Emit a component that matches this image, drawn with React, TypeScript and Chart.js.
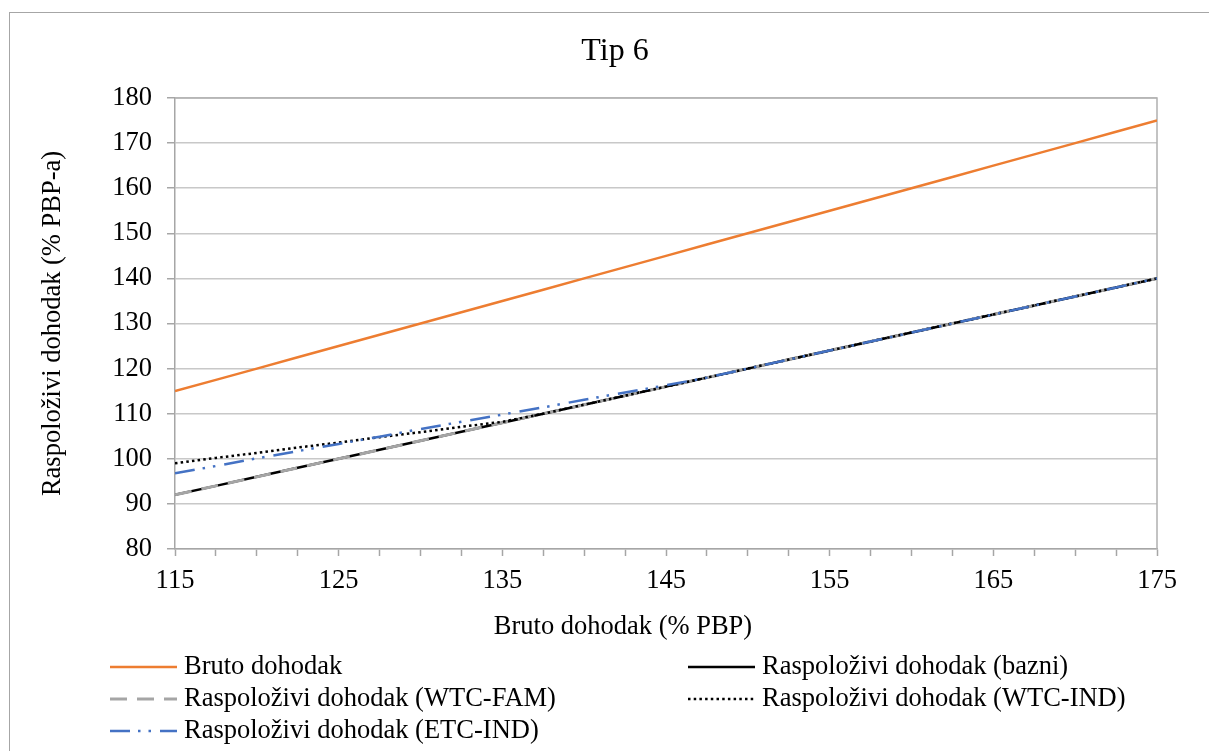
import React, { useEffect, useRef } from 'react';
import { Chart, registerables } from 'chart.js';

Chart.register(...registerables);

// ---- data ----
const xValues = [115, 117.5, 120, 122.5, 125, 127.5, 130, 132.5, 135, 137.5, 140, 142.5, 145, 147.5, 150, 152.5, 155, 157.5, 160, 162.5, 165, 167.5, 170, 172.5, 175];
const brutoValues = [115, 117.5, 120, 122.5, 125, 127.5, 130, 132.5, 135, 137.5, 140, 142.5, 145, 147.5, 150, 152.5, 155, 157.5, 160, 162.5, 165, 167.5, 170, 172.5, 175];
const bazniValues = [92, 94, 96, 98, 100, 102, 104, 106, 108, 110, 112, 114, 116, 118, 120, 122, 124, 126, 128, 130, 132, 134, 136, 138, 140];
const wtcFamValues = [92, 94, 96, 98, 100, 102, 104, 106, 108, 110, 112, 114, 116, 118, 120, 122, 124, 126, 128, 130, 132, 134, 136, 138, 140];
const wtcIndValues = [99.0, 100.2, 101.3, 102.5, 103.6, 104.8, 105.9, 107.1, 108.2, 110, 112, 114, 116, 118, 120, 122, 124, 126, 128, 130, 132, 134, 136, 138, 140];
const etcIndValues = [96.8, 98.4, 100.1, 101.7, 103.3, 104.9, 106.6, 108.2, 109.8, 111.4, 113.1, 114.7, 116.3, 118, 120, 122, 124, 126, 128, 130, 132, 134, 136, 138, 140];

const seriesLabels = [
  'Bruto dohodak',
  'Raspoloživi dohodak (bazni)',
  'Raspoloživi dohodak (WTC-FAM)',
  'Raspoloživi dohodak (WTC-IND)',
  'Raspoloživi dohodak (ETC-IND)',
];
const chartTitle = 'Tip 6';
const xAxisTitle = 'Bruto dohodak (% PBP)';
const yAxisTitle = 'Raspoloživi dohodak (% PBP-a)';
const xLabelTicks = [115, 125, 135, 145, 155, 165, 175];

const FONT = "'Liberation Serif', 'Times New Roman', serif";
const FS = 26.5;

const toPoints = (ys: number[]) => ys.map((y, i) => ({ x: xValues[i], y }));

const textPlugin = {
  id: 'textAndLegend',
  afterDraw(chart: any) {
    const ctx = chart.ctx;
    // chart title and x-axis title (centred on the whole chart object)
    ctx.save();
    ctx.fillStyle = '#000';
    ctx.textAlign = 'center';
    ctx.textBaseline = 'middle';
    ctx.font = `32px ${FONT}`;
    ctx.fillText(chartTitle, 615, 52);
    ctx.font = `${FS}px ${FONT}`;
    ctx.fillText(xAxisTitle, 623, 627);
    ctx.restore();

    // legend in two columns
    const cols = [110, 688];
    const rowY0 = 667;
    const rowGap = 32;
    chart.data.datasets.forEach((ds: any, i: number) => {
      const x = cols[i % 2];
      const y = rowY0 + Math.floor(i / 2) * rowGap;
      ctx.save();
      ctx.strokeStyle = ds.borderColor;
      ctx.lineWidth = ds.borderWidth;
      ctx.lineCap = 'butt';
      ctx.setLineDash(ds.borderDash || []);
      ctx.beginPath();
      ctx.moveTo(x, y);
      ctx.lineTo(x + 67, y);
      ctx.stroke();
      ctx.setLineDash([]);
      ctx.fillStyle = '#000';
      ctx.font = `${FS}px ${FONT}`;
      ctx.textBaseline = 'middle';
      ctx.textAlign = 'left';
      ctx.fillText(ds.label, x + 74, y);
      ctx.restore();
    });
  },
};

const plotBorderPlugin = {
  id: 'plotBorder',
  beforeDatasetsDraw(chart: any) {
    const { ctx, chartArea } = chart;
    ctx.save();
    ctx.strokeStyle = '#b0b0b0';
    ctx.lineWidth = 1.5;
    ctx.beginPath();
    ctx.moveTo(chartArea.left, chartArea.top);
    ctx.lineTo(chartArea.right, chartArea.top);
    ctx.lineTo(chartArea.right, chartArea.bottom);
    ctx.stroke();
    ctx.restore();
  },
};

export default function App() {
  const canvasRef = useRef<HTMLCanvasElement | null>(null);

  useEffect(() => {
    if (!canvasRef.current) return;
    const chart = new Chart(canvasRef.current, {
      type: 'line',
      data: {
        datasets: [
          { label: seriesLabels[0], data: toPoints(brutoValues), borderColor: '#ED7D31', borderWidth: 2.5, order: 5 },
          { label: seriesLabels[1], data: toPoints(bazniValues), borderColor: '#000000', borderWidth: 2.5, order: 4 },
          { label: seriesLabels[2], data: toPoints(wtcFamValues), borderColor: '#A5A5A5', borderWidth: 3, borderDash: [17, 10], order: 3 },
          { label: seriesLabels[3], data: toPoints(wtcIndValues), borderColor: '#000000', borderWidth: 2.5, borderDash: [2.5, 3.2], order: 2 },
          { label: seriesLabels[4], data: toPoints(etcIndValues), borderColor: '#4472C4', borderWidth: 2.5, borderDash: [20, 8, 2.5, 8, 2.5, 9], order: 1 },
        ] as any,
      },
      options: {
        responsive: false,
        animation: false,
        devicePixelRatio: 1,
        elements: { point: { radius: 0, hoverRadius: 0 }, line: { tension: 0, fill: false } },
        layout: { padding: { left: 0, right: 52, top: 98, bottom: 102 } },
        plugins: {
          legend: { display: false },
          tooltip: { enabled: false },
          title: { display: false },
        },
        scales: {
          x: {
            type: 'linear',
            min: 115,
            max: 175,
            ticks: {
              stepSize: 2.5,
              autoSkip: false,
              maxRotation: 0,
              padding: 9,
              color: '#000',
              font: { family: FONT, size: FS },
              callback: (v: any) => (xLabelTicks.some((t) => Math.abs(t - Number(v)) < 1e-6) ? String(v) : ''),
            },
            grid: { drawOnChartArea: false, drawTicks: true, tickLength: 7, tickColor: '#a6a6a6', tickWidth: 1.5 },
            border: { color: '#a6a6a6', width: 1.5 },
            title: { display: false },
            afterFit: (s: any) => { s.height = 100; },
          },
          y: {
            min: 80,
            max: 180,
            ticks: { stepSize: 10, padding: 15, color: '#000', font: { family: FONT, size: FS } },
            grid: { color: '#c8c8c8', lineWidth: 1.5, tickLength: 8, tickColor: '#a6a6a6', tickWidth: 1.5 },
            border: { color: '#a6a6a6', width: 1.5 },
            title: {
              display: true,
              text: yAxisTitle,
              color: '#000',
              font: { family: FONT, size: FS },
              padding: { top: 37, bottom: 0 },
            },
            afterFit: (s: any) => { s.width = 175; },
          },
        },
      } as any,
      plugins: [textPlugin, plotBorderPlugin],
    });
    return () => chart.destroy();
  }, []);

  return (
    <div style={{ position: 'fixed', left: 0, top: 0, width: 1209, height: 751, overflow: 'hidden', background: '#fff' }}>
      <canvas ref={canvasRef} width={1209} height={751} style={{ position: 'absolute', left: 0, top: 0, display: 'block' }} />
      <div
        style={{
          position: 'absolute',
          left: 9,
          top: 12,
          width: 1300,
          height: 900,
          border: '1.5px solid #a6a6a6',
          pointerEvents: 'none',
        }}
      />
    </div>
  );
}
